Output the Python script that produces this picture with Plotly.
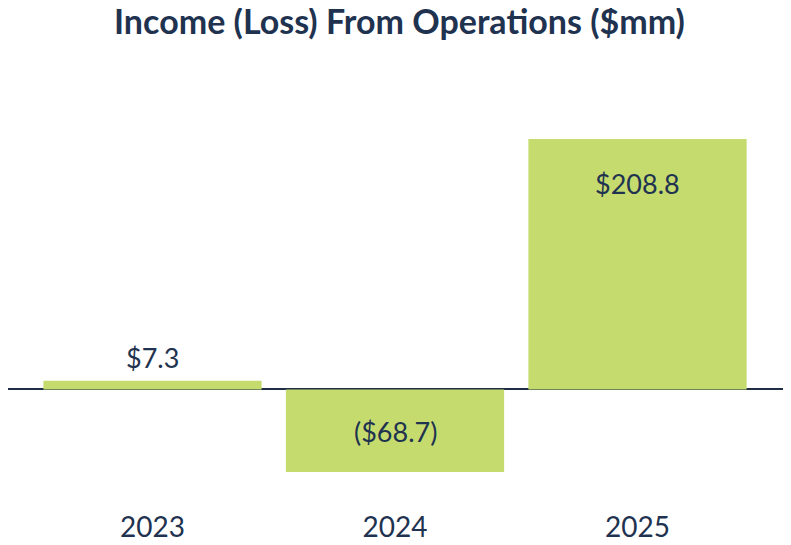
import plotly.graph_objects as go

years = ["2023", "2024", "2025"]
values = [7.3, -68.7, 208.8]
labels = ["$7.3", "($68.7)", "$208.8"]

BAR = "#C5DB6E"
NAVY = "#1F3350"
FONT = "Lato"

fig = go.Figure(go.Bar(x=years, y=values, marker=dict(color=BAR, line=dict(width=0)),
                       hoverinfo="skip"))

for i, (v, lab) in enumerate(zip(values, labels)):
    if 0 <= v < 50:
        ann = dict(y=v, yshift=23)
    elif v >= 0:
        ann = dict(y=v, yshift=-44)
    else:
        ann = dict(y=v / 2, yshift=-1)
    fig.add_annotation(x=i, text=lab, showarrow=False, xref="x", yref="y",
                       yanchor="middle", xanchor="center",
                       font=dict(family=FONT, size=27, color=NAVY), **ann)

fig.update_layout(
    width=783, height=537,
    margin=dict(l=0, r=0, t=72, b=37),
    paper_bgcolor="white", plot_bgcolor="white",
    title=dict(text="<b>Income (Loss) From Operations ($mm)</b>", x=0.5, xanchor="center",
               y=1 - 14 / 537, yanchor="middle", font=dict(family=FONT, size=34, color=NAVY)),
    bargap=0.1,
    showlegend=False,
    xaxis=dict(type="category", range=[-0.596, 2.633], showgrid=False, showline=False,
               ticks="", tickfont=dict(family=FONT, size=28, color=NAVY)),
    yaxis=dict(range=[-98.8, 258.0], showgrid=False, showticklabels=False, ticks="",
               zeroline=True, zerolinecolor="#1F2D45", zerolinewidth=2),
)

fig.write_html("out.html")
